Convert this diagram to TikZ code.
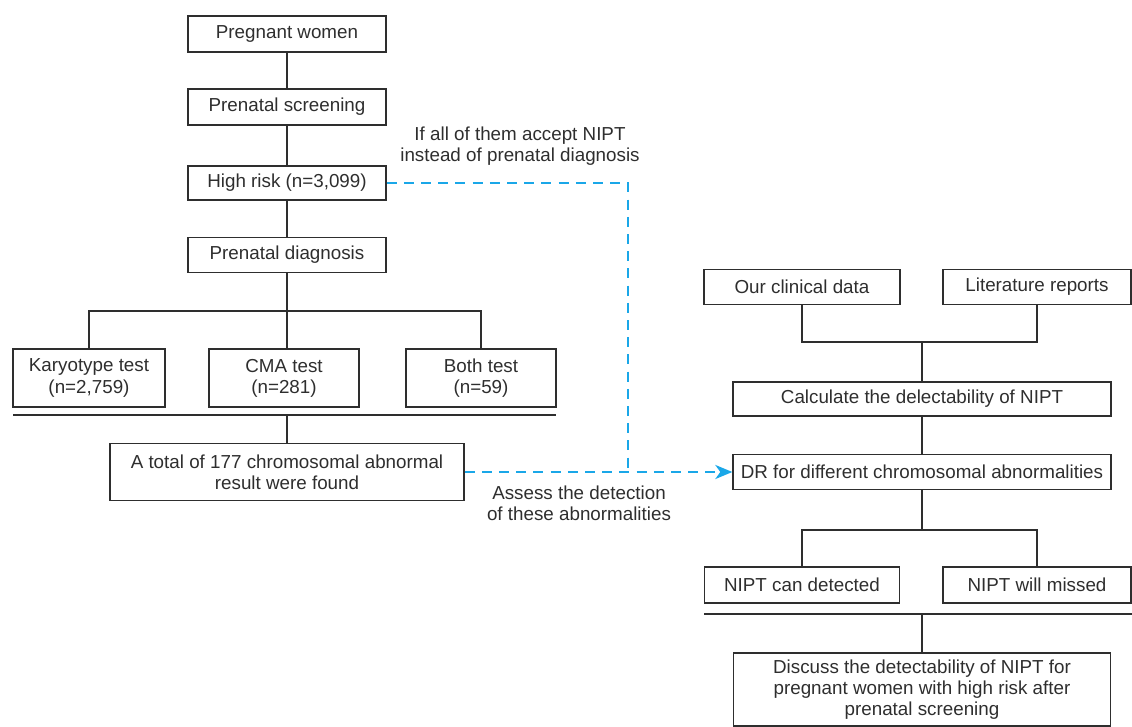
\documentclass[tikz,border=0pt]{standalone}
\usepackage{fontspec}
\setmainfont{Liberation Sans}
\usetikzlibrary{arrows.meta}
\definecolor{inkgray}{HTML}{2E2E2E}
\definecolor{nipcyan}{HTML}{1AA7E8}
\begin{document}
\begin{tikzpicture}[
  x=0.5pt, y=-0.5pt,
  every node/.style={font=\fontsize{9.4}{10.6}\selectfont, text=inkgray},
  box/.style={draw=inkgray, line width=0.65pt, rectangle, align=center, inner sep=0pt},
  note/.style={align=center, inner sep=0pt},
  link/.style={draw=inkgray, line width=0.65pt},
  dashline/.style={draw=nipcyan, line width=1.3pt, dash pattern=on 5pt off 3.6pt}
]
\useasboundingbox (0,0) rectangle (1132,727);
% left column
\node[box, minimum width=99pt, minimum height=18pt] (women) at (287,34) {Pregnant women};
\node[box, minimum width=99pt, minimum height=18pt] (screen) at (287,107) {Prenatal screening};
\node[box, minimum width=99pt, minimum height=17pt] (high) at (287,183) {High risk (n=3,099)};
\node[box, minimum width=99pt, minimum height=17.5pt] (diag) at (287,255) {Prenatal diagnosis};
\node[box, minimum width=76pt, minimum height=29pt] (kary) at (89,378) {Karyotype test\\(n=2,759)};
\node[box, minimum width=75pt, minimum height=29pt] (cma) at (284,378) {CMA test\\(n=281)};
\node[box, minimum width=75pt, minimum height=29pt] (both) at (481,378) {Both test\\(n=59)};
\node[box, minimum width=177pt, minimum height=28.5pt] (total) at (287,472) {A total of 177 chromosomal abnormal\\result were found};
% right column
\node[box, minimum width=98pt, minimum height=17.5pt] (clinical) at (802,287) {Our clinical data};
\node[box, minimum width=94pt, minimum height=17.5pt] (lit) at (1037,287) {Literature reports};
\node[box, minimum width=189pt, minimum height=17pt] (calc) at (922,399) {Calculate the delectability of NIPT};
\node[box, minimum width=189pt, minimum height=17.5pt] (dr) at (922,472) {DR for different chromosomal abnormalities};
\node[box, minimum width=97.5pt, minimum height=18pt] (detect) at (802,585) {NIPT can detected};
\node[box, minimum width=94pt, minimum height=18pt] (miss) at (1037,585) {NIPT will missed};
\node[box, minimum width=188.5pt, minimum height=36.5pt] (discuss) at (922,689.5) {Discuss the detectability of NIPT for\\pregnant women with high risk after\\prenatal screening};
% notes on the dashed path
\node[note] (ifall) at (520,146) {If all of them accept NIPT\\instead of prenatal diagnosis};
\node[note] (assess) at (579,503) {Assess the detection\\of these abnormalities};
% helper points
\coordinate (split) at (287,311);
\coordinate (sepL) at (13,415);
\coordinate (sepR) at (556,415);
\coordinate (merge) at (922,342);
\coordinate (split2) at (922,530);
\coordinate (sep2L) at (704,614);
\coordinate (sep2R) at (1132,614);
\coordinate (bend) at (628,183);
% left connectors
\draw[link] (women) -- (screen);
\draw[link] (screen) -- (high);
\draw[link] (high) -- (diag);
\draw[link] (diag) -- (diag |- cma.north);
\draw[link] (kary) |- (split) -| (both);
\draw[link] (sepL) -- (sepR);
\draw[link] (total) -- (total |- sepL);
% right connectors
\draw[link] (clinical) |- (merge) -| (lit);
\draw[link] (merge) -- (calc);
\draw[link] (calc) -- (dr);
\draw[link] (detect) |- (split2) -| (miss);
\draw[link] (dr) -- (split2);
\draw[link] (sep2L) -- (sep2R);
\draw[link] (discuss) -- (discuss |- sep2L);
% dashed links
\draw[dashline] (high.east) -- (bend) -- (bend |- dr.west);
\draw[dashline, -{Stealth[length=8.5pt, width=7pt, inset=2.5pt]}] (total.east) -- (dr.west);
\end{tikzpicture}
\end{document}
